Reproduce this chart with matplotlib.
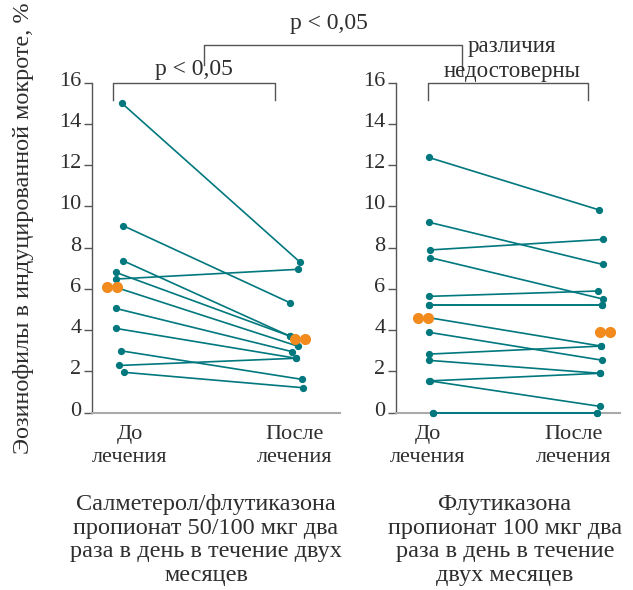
import numpy as np
import matplotlib
matplotlib.use("Agg")
from matplotlib import pyplot as plt
from matplotlib import transforms

plt.rcParams['font.family'] = ['Liberation Serif', 'DejaVu Serif']

# --- data (eosinophils, %) ---
# salmeterol/fluticasone group
sf_before = [15.0, 9.07, 7.37, 6.8, 6.48, 6.06, 5.06, 4.09, 3.0, 2.29, 1.96]
sf_after = [7.3, 5.33, 3.72, 3.72, 6.95, 3.23, 2.96, 2.64, 1.62, 2.64, 1.21]
sf_mean = [6.1, 3.59]
# fluticasone group
fp_before = [12.38, 9.24, 7.89, 7.52, 5.64, 5.24, 5.24, 4.61, 3.9, 2.84, 2.54, 1.54, 1.54, 0.0, 0.0]
fp_after = [9.84, 7.19, 8.40, 5.51, 5.9, 5.24, 5.24, 3.23, 2.55, 3.23, 1.91, 1.91, 0.31, 0.0, 0.0]
fp_mean = [4.61, 3.9]

xcats = ['До\nлечения', 'После\nлечения']
yticks = [0, 2, 4, 6, 8, 10, 12, 14, 16]

# small horizontal scatter of the dots (px) as in the picture
sf_jb = [4, 5, 5, -2, -2, -1, -2.5, -2.5, 3, 1, 5.5]
sf_ja = [3, -7, -7.5, -7.5, 0.5, 0.5, -5, -1, 4.5, -1, 6]
fp_jb = [0, 0, 1, 1.5, 0, 0, 0, 0, 0, 0, 0, 0, 1.5, 4, 4]
fp_ja = [-1.5, 2.5, 2.5, 3, -2, 2, 2, 1, 1.5, 1, 0, 0, -0.5, -3, -3]

teal = '#00787e'
orange = '#f28a1e'
txt = '#2e2e2e'
W, H = 633, 590

fig = plt.figure(figsize=(W / 100, H / 100), dpi=100)


def panel(x0, x1, xb, xa, before, after, jb, ja, mean, mjit):
    y0, y1 = 412.7, 82.7
    ax = fig.add_axes([x0 / W, (H - y0) / H, (x1 - x0) / W, (y0 - y1) / H])
    unit = xa - xb
    ax.set_xlim((x0 - xb) / unit, (x1 - xb) / unit)
    ax.set_ylim(0, 16)
    for b, a, jb_, ja_ in zip(before, after, jb, ja):
        ax.plot([jb_ / unit, 1 + ja_ / unit], [b, a], '-', color=teal, lw=1.2,
                marker='o', ms=4.2, mfc=teal, mec=teal, clip_on=False, zorder=3)
    for k, m in enumerate(mean):
        ax.plot([k + (mjit[k] - 5) / unit, k + (mjit[k] + 5) / unit], [m, m], '-',
                color=orange, lw=2, marker='o', ms=7, mec=orange, clip_on=False, zorder=4)
    for s in ['top', 'right']:
        ax.spines[s].set_visible(False)
    ax.spines['left'].set_color('#555555')
    ax.spines['bottom'].set_color('#aaaaaa')
    ax.spines['left'].set_linewidth(1.0)
    ax.spines['bottom'].set_linewidth(1.5)
    ax.set_xticks([])
    ax.set_yticks(yticks)
    ax.tick_params(axis='y', length=6, width=1, color='#555555', pad=1.5,
                   labelsize=16, labelcolor=txt)
    off = transforms.ScaledTranslation(0, 4 / 100, fig.dpi_scale_trans)
    for lab in ax.get_yticklabels():
        lab.set_transform(lab.get_transform() + off)
    return ax


panel(92, 340, 118, 297, sf_before, sf_after, sf_jb, sf_ja, sf_mean, [-6, 3])
panel(396, 620, 428.5, 600, fp_before, fp_after, fp_jb, fp_ja, fp_mean, [-5.5, 5])

# overlay in pixel coordinates for labels and brackets
ov = fig.add_axes([0, 0, 1, 1])
ov.set_xlim(0, W)
ov.set_ylim(H, 0)
ov.axis('off')

for xc, lab in zip([130, 295, 428, 574], xcats * 2):
    ov.text(xc, 446, lab, ha='center', va='center', fontsize=16, color=txt, linespacing=1.25)

ov.text(206, 540, 'Салметерол/флутиказона\nпропионат 50/100 мкг два\nраза в день в течение двух\nмесяцев',
        ha='center', va='center', fontsize=17.5, color=txt, linespacing=1.15)
ov.text(505, 540, 'Флутиказона\nпропионат 100 мкг два\nраза в день в течение\nдвух месяцев',
        ha='center', va='center', fontsize=17.5, color=txt, linespacing=1.15)

ov.text(24, 228, 'Эозинофилы в индуцированной мокроте, %', rotation=90,
        ha='center', va='center', fontsize=17.5, color=txt)

bc = '#555555'
ov.plot([113, 113, 275, 275], [100, 83, 83, 100], color=bc, lw=1)
ov.text(194, 70, 'p < 0,05', ha='center', va='center', fontsize=17, color=txt)
ov.plot([428, 428, 588, 588], [100, 83, 83, 100], color=bc, lw=1)
ov.text(512, 59, 'различия\nнедостоверны', ha='center', va='center', fontsize=16.5,
        color=txt, linespacing=1.25)
ov.plot([204, 204, 462, 462], [65, 45, 45, 75], color=bc, lw=1)
ov.text(329, 23, 'p < 0,05', ha='center', va='center', fontsize=17, color=txt)

fig.savefig('out.png', dpi=100)
